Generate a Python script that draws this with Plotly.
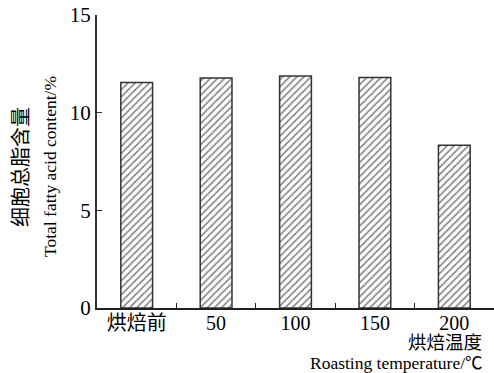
import plotly.graph_objects as go

categories = ["烘焙前", "50", "100", "150", "200"]
values = [11.55, 11.77, 11.88, 11.8, 8.33]
y_ticks = [0, 5, 10, 15]

FONT = "Liberation Serif, Times New Roman, Noto Sans CJK SC, serif"

W, H = 494, 373
L, R, T, B = 97, 0, 15, 65

fig = go.Figure()
fig.add_trace(go.Bar(
    x=categories, y=values, width=0.4,
    marker=dict(color="white", line=dict(color="#333333", width=1.5),
                pattern=dict(shape="/", fgcolor="black", bgcolor="white", size=5, solidity=0.3)),
))

fig.update_layout(
    width=W, height=H,
    margin=dict(l=L, r=R, t=T, b=B, pad=0),
    paper_bgcolor="white", plot_bgcolor="white",
    font=dict(family=FONT, size=18, color="black"),
    showlegend=False,
)
fig.update_xaxes(
    type="category", range=[-0.5, 4.5], automargin=False,
    showline=True, linecolor="#222222", linewidth=2,
    ticks="inside", ticklen=5, tickwidth=1, tickcolor="#222222",
    tickson="boundaries", showgrid=False, zeroline=False,
    tickfont=dict(family=FONT, size=20), ticklabelstandoff=-4,
)
fig.update_yaxes(
    range=[0, 15], tickvals=y_ticks, automargin=False,
    showline=True, linecolor="#333333", linewidth=2,
    ticks="inside", ticklen=5, tickwidth=1, tickcolor="#333333",
    showgrid=False, zeroline=False,
    tickfont=dict(family=FONT, size=21),
)

pw, ph = W - L - R, H - T - B
def px(xp): return (xp - L) / pw
def py(yp): return (H - B - yp) / ph

fig.add_annotation(text="细胞总脂含量", x=px(21), y=py(167), xref="paper", yref="paper",
                   xanchor="center", yanchor="middle",
                   showarrow=False, textangle=-90, font=dict(family=FONT, size=20))
fig.add_annotation(text="Total fatty acid content/%", x=px(50), y=py(167), xref="paper", yref="paper",
                   xanchor="center", yanchor="middle",
                   showarrow=False, textangle=-90, font=dict(family=FONT, size=17.5))
fig.add_annotation(text="烘焙温度", x=px(483), y=py(343), xref="paper", yref="paper",
                   xanchor="right", yanchor="middle", borderpad=0,
                   showarrow=False, font=dict(family=FONT, size=18.5))
fig.add_annotation(text="Roasting temperature/℃", x=px(484), y=py(363), xref="paper", yref="paper",
                   xanchor="right", yanchor="middle", borderpad=0,
                   showarrow=False, font=dict(family=FONT, size=17.5))

fig.write_html("out.html", config={"displayModeBar": False},
               post_script="document.body.style.margin='0';")
